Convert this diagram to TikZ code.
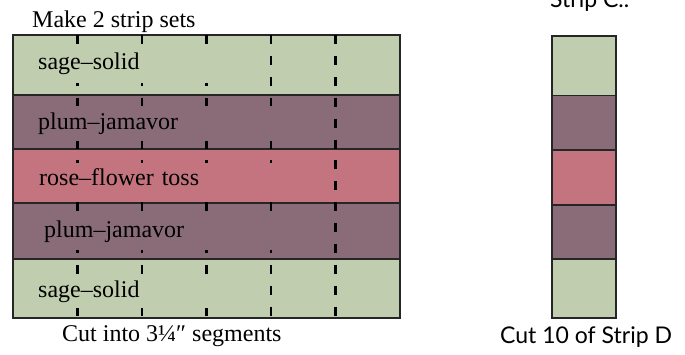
\documentclass[tikz,border=0pt]{standalone}
\usepackage{fontspec}
\setmainfont{Liberation Serif}
\newfontfamily\gillfont{Lato}
\definecolor{sage}{RGB}{193,205,175}
\definecolor{plum}{RGB}{138,108,121}
\definecolor{rose}{RGB}{196,116,126}
\tikzset{
  band/.style={draw=black!85, line width=1.2pt},
  cutline/.style={line width=2.6pt, dash pattern=on 9pt off 11.9pt},
  bandlabel/.style={anchor=west, inner xsep=13pt, inner ysep=0pt, align=left,
    font=\fontsize{24}{28}\selectfont},
  serifnote/.style={anchor=base west, inner sep=0pt, font=\fontsize{24}{28}\selectfont},
  sansnote/.style={anchor=base west, inner sep=0pt, font=\gillfont\fontsize{23}{26}\selectfont},
}

\begin{document}
\begin{tikzpicture}[x=1pt,y=-1pt]
    \useasboundingbox (0,0) rectangle (685,354);

    % strip set
    \foreach \top/\bot/\col in {35/95/sage,95/149/plum,149/203/rose,203/259/plum,259/318/sage}
    {
      \draw[band, fill=\col] (13,\top) rectangle (400,\bot);
    };
    \foreach \x in {77.5,142,206.5,271,335.5}
    {
      \draw[cutline] (\x,35) -- (\x,318);
    };

    \node[bandlabel, fill=sage, text width=202pt, minimum height=38pt] (sage1) at (25,64) {sage--solid};
    \node[bandlabel, fill=plum, text width=249pt, minimum height=35pt] (plum1) at (25,123.5) {plum--jamavor};
    \node[bandlabel, fill=rose, text width=249pt, minimum height=29pt] (rose) at (26,177.5) {rose--flower toss};
    \node[bandlabel, fill=plum, text width=243pt, minimum height=37pt] (plum2) at (31,231.5) {plum--jamavor};
    \node[bandlabel, fill=sage, text width=202pt, minimum height=33pt] (sage2) at (25,291.5) {sage--solid};

    \node[serifnote] (make) at (32,27) {Make 2 strip sets};
    \node[serifnote] (cutinto) at (62,341) {Cut into 3¼″ segments};

    % strip D
    \foreach \top/\bot/\col in {36/95.5/sage,95.5/150/plum,150/205/rose,205/259/plum,259/318/sage}
    {
      \draw[band, fill=\col] (552,\top) rectangle (616,\bot);
    };
    \node[sansnote] (stripc) at (550,7) {Strip C..};
    \node[sansnote] (cutten) at (500,343) {Cut 10 of Strip D};
  \end{tikzpicture}
\end{document}
